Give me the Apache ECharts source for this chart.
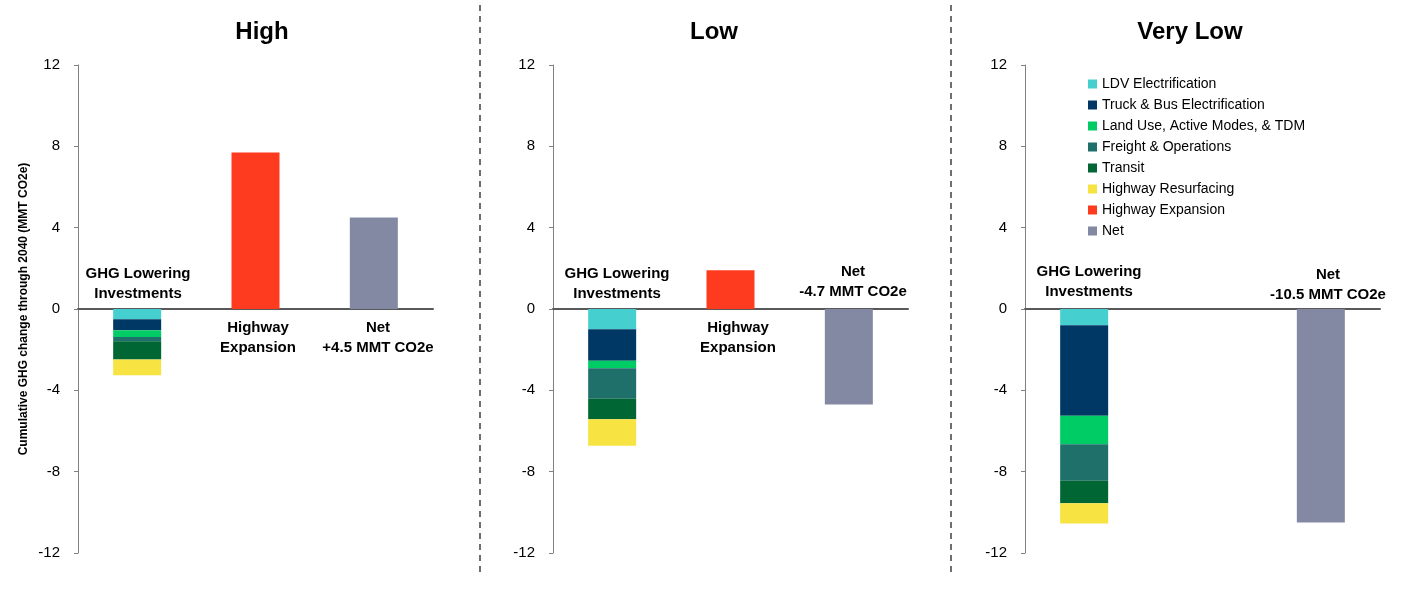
<!DOCTYPE html>
<html><head><meta charset="utf-8">
<script src="https://cdn.jsdelivr.net/npm/echarts@6/dist/echarts.min.js"></script>
<style>html,body{margin:0;padding:0;background:#fff}#c{width:1420px;height:593px}</style>
</head><body><div id="c"></div>
<script>
var panels = ['High', 'Low', 'Very Low'];
var categories = ['GHG Lowering Investments', 'Highway Expansion', 'Net'];
var ldv = [-0.5, -1.0, -0.8];
var truck = [-0.55, -1.55, -4.45];
var landUse = [-0.33, -0.37, -1.4];
var freight = [-0.2, -1.5, -1.8];
var transit = [-0.9, -1.0, -1.1];
var resurfacing = [-0.78, -1.3, -1.0];
var expansion = [7.7, 1.9, 0];
var net = [4.5, -4.7, -10.5];
var yTicks = [-12, -8, -4, 0, 4, 8, 12];

var gridLeft = [78, 553, 1025];
var font = 'Arial, "Liberation Sans", sans-serif';
var grids = [], xAxes = [], yAxes = [], series = [];
var invest = [
  ['LDV Electrification', ldv, '#45cfcf'],
  ['Truck & Bus Electrification', truck, '#003865'],
  ['Land Use, Active Modes, & TDM', landUse, '#00cc66'],
  ['Freight & Operations', freight, '#1f6f6b'],
  ['Transit', transit, '#006633'],
  ['Highway Resurfacing', resurfacing, '#f7e442']
];
for (var p = 0; p < 3; p++) {
  grids.push({left: gridLeft[p], width: 355, top: 65, height: 488});
  xAxes.push({type: 'category', gridIndex: p, data: categories, axisLabel: {show: false},
    axisTick: {show: false}, axisLine: {onZero: true, lineStyle: {color: '#595959', width: 2}}});
  yAxes.push({type: 'value', gridIndex: p, min: -12, max: 12, interval: 4,
    name: p === 0 ? 'Cumulative GHG change through 2040 (MMT CO2e)' : '',
    nameLocation: 'middle', nameGap: 48, nameTextStyle: {fontFamily: font, fontSize: 12, fontWeight: 'bold', color: '#000'},
    splitLine: {show: false}, axisLine: {show: true, lineStyle: {color: '#808080'}},
    axisTick: {show: true, length: 4, lineStyle: {color: '#808080'}},
    axisLabel: {fontFamily: font, fontSize: 15, color: '#000', margin: 18}});
  invest.forEach(function (s) {
    series.push({name: s[0], type: 'bar', stack: 's' + p, xAxisIndex: p, yAxisIndex: p,
      barWidth: 48, itemStyle: {color: s[2]}, data: [s[1][p], null, null]});
  });
  series.push({name: 'Highway Expansion', type: 'bar', stack: 's' + p, xAxisIndex: p, yAxisIndex: p,
    barWidth: 48, itemStyle: {color: '#ff3b1f'}, data: [null, expansion[p] || null, null]});
  series.push({name: 'Net', type: 'bar', stack: 's' + p, xAxisIndex: p, yAxisIndex: p,
    barWidth: 48, itemStyle: {color: '#8489a3'}, data: [null, null, net[p]]});
}

function txt(x, y, t, size) {
  return {type: 'text', left: x, top: y, style: {text: t, font: 'bold ' + (size || 15) + 'px ' + font,
    fill: '#000', textAlign: 'center', lineHeight: 20}};
}
function ctext(cx, y, t, size) {
  return {type: 'text', x: cx, y: y, style: {text: t, font: 'bold ' + (size || 15) + 'px ' + font,
    fill: '#000', align: 'center', lineHeight: 20}};
}
var graphics = [
  ctext(262, 22, 'High', 24), ctext(714, 22, 'Low', 24), ctext(1190, 22, 'Very Low', 24),
  ctext(138, 264, 'GHG Lowering\nInvestments'), ctext(258, 318, 'Highway\nExpansion'),
  ctext(378, 318, 'Net\n+4.5 MMT CO2e'),
  ctext(617, 264, 'GHG Lowering\nInvestments'), ctext(738, 318, 'Highway\nExpansion'),
  ctext(853, 262, 'Net\n-4.7 MMT CO2e'),
  ctext(1089, 262, 'GHG Lowering\nInvestments'), ctext(1328, 265, 'Net\n-10.5 MMT CO2e'),
  {type: 'line', shape: {x1: 480, y1: 5, x2: 480, y2: 575}, style: {stroke: '#404040', lineWidth: 1.5, lineDash: [6, 5]}},
  {type: 'line', shape: {x1: 951, y1: 5, x2: 951, y2: 575}, style: {stroke: '#404040', lineWidth: 1.5, lineDash: [6, 5]}}
];

var chart = echarts.init(document.getElementById('c'));
chart.setOption({
  animation: false,
  grid: grids, xAxis: xAxes, yAxis: yAxes, series: series,
  legend: {orient: 'vertical', left: 1083, top: 72, itemWidth: 9, itemHeight: 9, itemGap: 7,
    icon: 'rect', selectedMode: false,
    textStyle: {fontFamily: font, fontSize: 14, color: '#000'},
    data: ['LDV Electrification', 'Truck & Bus Electrification', 'Land Use, Active Modes, & TDM',
      'Freight & Operations', 'Transit', 'Highway Resurfacing', 'Highway Expansion', 'Net']},
  graphic: graphics
});
</script></body></html>
